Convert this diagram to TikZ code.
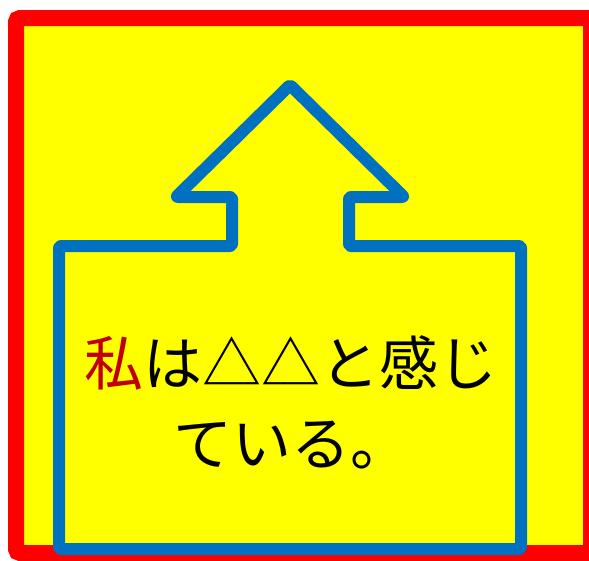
\documentclass[tikz,border=0pt]{standalone}
\usepackage{fontspec}
\newfontfamily\jpfont{Noto Sans CJK JP}
\definecolor{frame red}{HTML}{FF0000}
\definecolor{bg yellow}{HTML}{FFFF00}
\definecolor{arrow blue}{HTML}{0070C0}
\definecolor{word red}{HTML}{C00000}
\tikzset{
  outer frame/.style={draw=frame red, fill=bg yellow, line width=16pt, rounded corners=4pt},
  up arrow/.style={draw=arrow blue, line width=12pt, line join=round, rounded corners=2pt},
  feeling/.style={align=center, font=\jpfont\fontsize{59}{80}\selectfont}
}
\begin{document}
\begin{tikzpicture}[x=1pt, y=-1pt]
            \useasboundingbox (0, 0) rectangle (589, 560);
            \clip (0, 0) rectangle (589, 560);
            \draw[outer frame] (16, 18) rectangle (591, 553);

            \draw[up arrow] (59, 549) -- (59, 246) -- (232, 246) -- (232, 197) -- (176, 197)
                -- (290, 85) -- (404, 197) -- (349, 197) -- (349, 246) -- (521, 246)
                -- (521, 549) -- cycle;

            \node[feeling] at (291, 402) (text) {\textcolor{word red}{私}は△△と感じ\\ている。};
        \end{tikzpicture}
\end{document}
